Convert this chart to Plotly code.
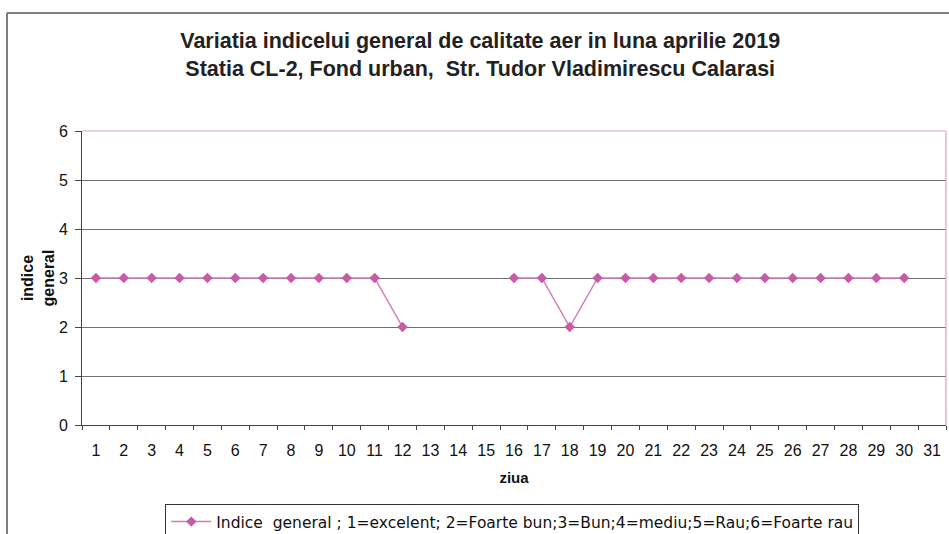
import plotly.graph_objects as go

days = [str(d) for d in range(1, 32)]
indice = [3, 3, 3, 3, 3, 3, 3, 3, 3, 3, 3, 2, None, None, None,
          3, 3, 2, 3, 3, 3, 3, 3, 3, 3, 3, 3, 3, 3, 3, None]
y_ticks = [0, 1, 2, 3, 4, 5, 6]

title_text = ("<b>Variatia indicelui general de calitate aer in luna aprilie 2019</b><br>"
              "<b>Statia CL-2, Fond urban,  Str. Tudor Vladimirescu Calarasi</b>")
legend_name = "Indice  general ; 1=excelent; 2=Foarte bun;3=Bun;4=mediu;5=Rau;6=Foarte rau"

FONT = "Liberation Sans, Arial, sans-serif"
PINK = "#C95AA6"

fig = go.Figure()
fig.add_trace(go.Scatter(
    x=days, y=indice, mode="lines+markers", name=legend_name,
    connectgaps=False,
    line=dict(color="#D47BBB", width=1.5),
    marker=dict(symbol="diamond", size=8, color=PINK),
))

L, R, T, B = 82, 3, 131, 109
W, H = 949, 534
pw, ph = W - L - R, H - T - B

def px_x(p):
    return (p - L) / pw

def px_y(p):
    return (H - B - p) / ph

fig.update_layout(
    width=W, height=H,
    margin=dict(l=L, r=R, t=T, b=B, autoexpand=False),
    paper_bgcolor="white", plot_bgcolor="white",
    font=dict(family=FONT, size=16, color="#111111"),
    title=dict(text=title_text, x=0.506, xanchor="center",
               y=1 - 48 / H, yanchor="top", yref="container",
               font=dict(family=FONT, size=21.5, color="#222222")),
    showlegend=True,
    legend=dict(orientation="h", x=0.498, xanchor="center",
                y=px_y(504), yanchor="top",
                bordercolor="#333333", borderwidth=1,
                font=dict(family="DejaVu Sans, sans-serif", size=15.5, color="#111111"),
                itemwidth=40),
    xaxis=dict(type="category", categoryorder="array", categoryarray=days,
               range=[-0.5, 30.5], tickson="boundaries", ticks="outside",
               ticklen=4, tickcolor="#444444", showgrid=False,
               showline=True, linecolor="#444444", linewidth=1,
               tickfont=dict(size=16), zeroline=False, automargin=False,
               ticklabelstandoff=11,
               title=dict(text="<b>ziua</b>", font=dict(size=15), standoff=14)),
    yaxis=dict(range=[0, 6], tickvals=y_ticks, ticks="outside", ticklen=6,
               tickcolor="#444444", showgrid=True, gridcolor="#6f6f6f",
               gridwidth=1, showline=True, linecolor="#444444", linewidth=1,
               zeroline=False, tickfont=dict(size=16), automargin=False,
               ticklabelstandoff=4,
               title=dict(text="<b>indice<br>general</b>", font=dict(size=16),
                          standoff=0)),
)

# pink top and right border of the plot area
fig.add_shape(type="line", xref="paper", yref="paper", x0=0, x1=1, y0=1, y1=1,
              line=dict(color="#E8A0B8", width=1.2), layer="above")
fig.add_shape(type="line", xref="paper", yref="paper", x0=1, x1=1, y0=0, y1=1,
              line=dict(color="#E8A0B8", width=1.2), layer="above")
# outer chart frame (left and top edges)
fig.add_shape(type="line", xref="paper", yref="paper",
              x0=px_x(7), x1=px_x(7), y0=px_y(13), y1=px_y(H + 5),
              line=dict(color="#555555", width=1.5))
fig.add_shape(type="line", xref="paper", yref="paper",
              x0=px_x(7), x1=px_x(W + 5), y0=px_y(13), y1=px_y(13),
              line=dict(color="#555555", width=1.5))

fig.write_html("out.html", config={"displayModeBar": False},
               post_script="document.body.style.margin='0';")
